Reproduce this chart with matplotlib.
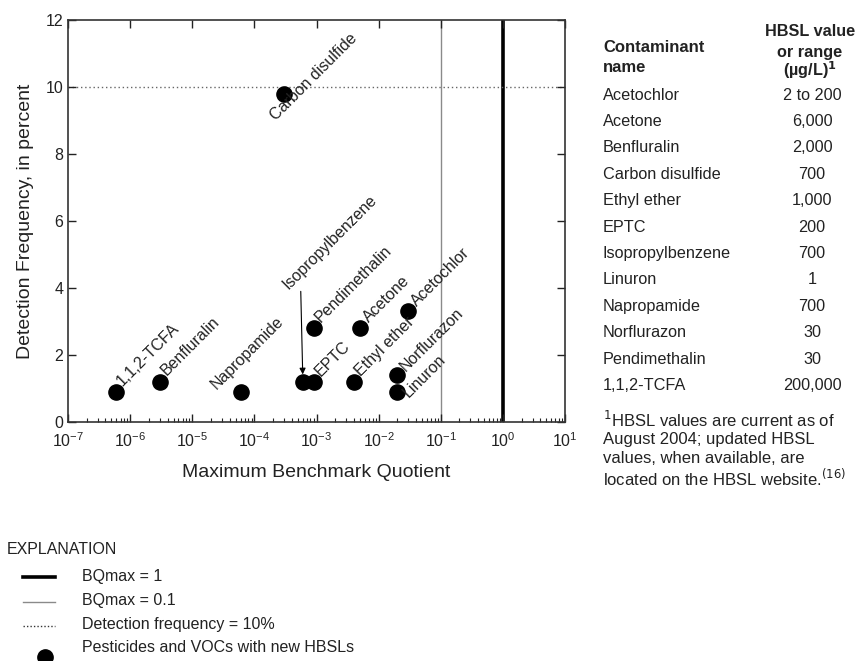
import matplotlib
matplotlib.use("Agg")
import matplotlib.pyplot as plt
from matplotlib.lines import Line2D
from matplotlib.ticker import FixedLocator, LogLocator, NullFormatter

plt.rcParams["font.family"] = ["Liberation Sans", "DejaVu Sans"]

# Scatter data: maximum benchmark quotient vs detection frequency (percent)
compounds = ["1,1,2-TCFA", "Benfluralin", "Napropamide", "Carbon disulfide",
             "Isopropylbenzene", "EPTC", "Pendimethalin", "Ethyl ether",
             "Acetone", "Acetochlor", "Norflurazon", "Linuron"]
bq_max = [6e-7, 3e-6, 6e-5, 3e-4, 6e-4, 9e-4, 9e-4, 4e-3, 5e-3, 3e-2, 2e-2, 2e-2]
det_freq = [0.9, 1.2, 0.9, 9.8, 1.2, 1.2, 2.8, 1.2, 2.8, 3.3, 1.4, 0.9]

# Table on the right
table_names = ["Acetochlor", "Acetone", "Benfluralin", "Carbon disulfide",
               "Ethyl ether", "EPTC", "Isopropylbenzene", "Linuron",
               "Napropamide", "Norflurazon", "Pendimethalin", "1,1,2-TCFA"]
table_hbsl = ["2 to 200", "6,000", "2,000", "700", "1,000", "200", "700",
              "1", "700", "30", "30", "200,000"]

x_decades = [1e-7, 1e-6, 1e-5, 1e-4, 1e-3, 1e-2, 1e-1, 1e0, 1e1]

W, H = 857, 661
fig = plt.figure(figsize=(W / 100, H / 100), dpi=100)


def fx(px):
    return px / W


def fy(py):
    return 1 - py / H


ax = fig.add_axes([fx(68), fy(422), fx(565) - fx(68), fy(20) - fy(422)])

ax.set_xscale("log")
ax.set_xlim(1e-7, 10)
ax.set_ylim(0, 12)
ax.set_yticks(range(0, 13, 2))
ax.xaxis.set_major_locator(FixedLocator(x_decades))
ax.xaxis.set_minor_locator(LogLocator(base=10, subs=range(2, 10), numticks=20))
ax.xaxis.set_minor_formatter(NullFormatter())
ax.tick_params(which="major", direction="in", length=6, width=1,
               top=True, right=True, labelsize=11.5, colors="#222222")
ax.tick_params(axis="x", which="major", pad=7)
ax.tick_params(which="minor", direction="in", length=3, width=0.8,
               top=False, bottom=True, colors="#222222")
for s in ax.spines.values():
    s.set_linewidth(1.2)
    s.set_color("#333333")

# Reference lines
ax.axvline(1, color="black", lw=2.6, zorder=1)
ax.axvline(0.1, color="#8a8a8a", lw=1.0, zorder=1)
ax.axhline(10, color="#666666", lw=1.0, ls=(0, (1, 2)), zorder=1)

ax.scatter(bq_max, det_freq, s=120, color="black", zorder=3)

# Label placement: offsets (points) from each point to the text baseline start
label_offsets = {
    "1,1,2-TCFA": (4, 4),
    "Benfluralin": (5, 4),
    "Napropamide": (-17, 1.5),
    "Carbon disulfide": (-6, -20),
    "EPTC": (5, 3.5),
    "Pendimethalin": (5, 3.5),
    "Ethyl ether": (5, 3.5),
    "Acetone": (6.5, 3.4),
    "Acetochlor": (6.5, 3.2),
    "Norflurazon": (6, 2.5),
    "Linuron": (8.5, -4.5),
}
for name, x, y in zip(compounds, bq_max, det_freq):
    if name in label_offsets:
        ax.annotate(name, (x, y), xytext=label_offsets[name],
                    textcoords="offset points", rotation=45,
                    rotation_mode="anchor", ha="left", va="baseline",
                    fontsize=11.5, color="#222222")
    elif name == "Isopropylbenzene":
        ax.annotate("", (x, y + 0.22), xytext=(x * 0.93, 3.9),
                    arrowprops=dict(arrowstyle="-|>", color="black", lw=0.8,
                                    mutation_scale=9, shrinkA=0, shrinkB=0))
        ax.text(x * 0.58, 3.94, name, rotation=45, rotation_mode="anchor",
                ha="left", va="baseline", fontsize=11.5, color="#222222")

ax.set_xlabel("Maximum Benchmark Quotient", fontsize=14, labelpad=10,
              color="#222222")
ax.set_ylabel("Detection Frequency, in percent", fontsize=14, labelpad=8,
              color="#222222")

# Table
tc = "#222222"
fig.text(fx(603), fy(47), "Contaminant", fontsize=12, fontweight="bold",
         va="center", color=tc)
fig.text(fx(603), fy(68), "name", fontsize=12, fontweight="bold",
         va="center", color=tc)
fig.text(fx(810), fy(32), "HBSL value", fontsize=11.7, fontweight="bold",
         va="center", ha="center", color=tc)
fig.text(fx(810), fy(52), "or range", fontsize=11.7, fontweight="bold",
         va="center", ha="center", color=tc)
fig.text(fx(810), fy(70), r"(µg/L)$^{\mathbf{1}}$", fontsize=11.7,
         fontweight="bold", va="center", ha="center", color=tc)
for i, (name, val) in enumerate(zip(table_names, table_hbsl)):
    ypix = 95 + i * 26.4
    fig.text(fx(603), fy(ypix), name, fontsize=11.7, va="center", color=tc)
    fig.text(fx(812), fy(ypix), val, fontsize=11.7, va="center", ha="center",
             color=tc)

foot = [r"$^{1}$HBSL values are current as of",
        "August 2004; updated HBSL",
        "values, when available, are",
        r"located on the HBSL website.$^{(16)}$"]
for i, line in enumerate(foot):
    fig.text(fx(603), fy(420 + i * 19.3), line, fontsize=12, va="center",
             color=tc)

# Explanation
fig.text(fx(7), fy(550), "EXPLANATION", fontsize=11.5, va="center", color=tc)
leg_items = [
    ("BQmax = 1", dict(color="black", lw=2.6)),
    ("BQmax = 0.1", dict(color="#8a8a8a", lw=1.0)),
    ("Detection frequency = 10%", dict(color="#333333", lw=1.0, ls=(0, (1, 1.5)))),
]
for i, (lab, style) in enumerate(leg_items):
    ypix = 576 + i * 24.5
    fig.add_artist(Line2D([fx(23), fx(55)], [fy(ypix + 1), fy(ypix + 1)],
                          transform=fig.transFigure, **style))
    fig.text(fx(82), fy(ypix), lab, fontsize=11.5, va="center", color=tc)
fig.add_artist(Line2D([fx(45)], [fy(657)], transform=fig.transFigure,
                      marker="o", markersize=11, color="black", ls="none"))
fig.text(fx(82), fy(648), "Pesticides and VOCs with new HBSLs", fontsize=11.5,
         va="center", color=tc)

fig.savefig("out.png", dpi=100)
